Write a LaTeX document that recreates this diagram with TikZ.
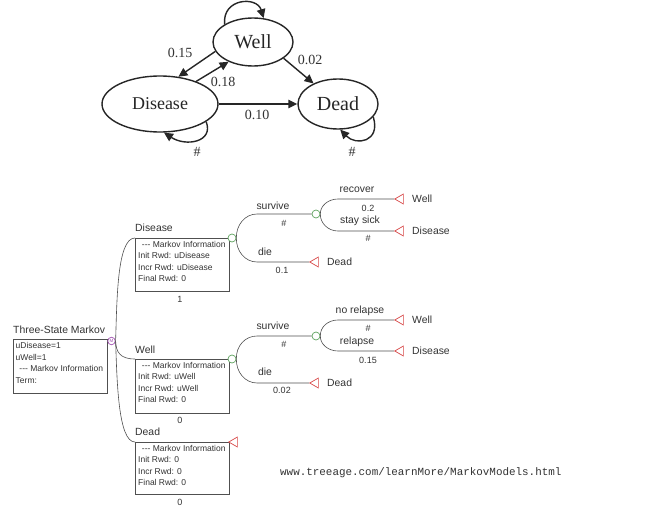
\documentclass[tikz,border=0pt]{standalone}
\usepackage{fontspec}
\setmainfont{Liberation Serif}
\newfontfamily\arialf{Liberation Sans}
\newfontfamily\courf{Liberation Mono}
\usetikzlibrary{shapes.geometric,arrows.meta}
\definecolor{tgray}{HTML}{505050}
\definecolor{txtc}{HTML}{333333}
\definecolor{cgreen}{HTML}{5FA35F}
\definecolor{tred}{HTML}{D84848}
\definecolor{mpurple}{HTML}{A050B0}
\tikzset{
  state/.style={ellipse,draw=black!85,line width=1.4pt,inner sep=0pt,text=black!85},
  arr/.style={draw=black!85,line width=1.4pt,-{Triangle[length=9pt,width=8.5pt]}},
  prob/.style={font=\fontsize{14}{16}\selectfont,text=black!80,inner sep=0pt},
  tl/.style={draw=tgray,line width=0.6pt},
  chance/.style={circle,draw=cgreen,line width=0.7pt,fill=white,minimum size=8pt,inner sep=0pt},
  term/.style={regular polygon,regular polygon sides=3,shape border rotate=90,draw=tred,line width=0.7pt,fill=white,minimum size=11.5pt,inner sep=0pt},
  markov/.style={circle,draw=mpurple,line width=0.7pt,fill=white,minimum size=7.5pt,inner sep=0pt,text=mpurple,font=\arialf\fontsize{4.5}{5}\selectfont},
  blab/.style={font=\arialf\fontsize{10.4}{12}\selectfont,text=txtc,inner sep=0pt},
  plab/.style={font=\arialf\fontsize{9}{10}\selectfont,text=txtc,inner sep=0pt},
  boxtxt/.style={font=\arialf\fontsize{8.5}{11.5}\selectfont,text=txtc,align=left,inner sep=0pt,anchor=north west},
  infobox/.style={draw=tgray,line width=0.6pt},
}
\begin{document}
\begin{tikzpicture}[x=1pt,y=-1pt]
\useasboundingbox[fill=white] (0,0) rectangle (659,508);
% ---------- top state diagram ----------
\node[state,minimum width=80pt,minimum height=48pt,font=\fontsize{20}{22}\selectfont] (well) at (253,42) {Well};
\node[state,minimum width=116pt,minimum height=56pt,font=\fontsize{18}{20}\selectfont] (dis) at (160,104) {Disease};
\node[state,minimum width=80pt,minimum height=50pt,font=\fontsize{20}{22}\selectfont] (dead) at (338,104) {Dead};
\draw[arr] (well.194) -- (dis.56);
\draw[arr] (dis.32) -- (well.219);
\draw[arr] (well.332) -- (dead.140);
\draw[arr] (dis.east) -- (dead.west);
\draw[arr] (well.148) .. controls (222,-2) and (257,-4) .. (well.66);
\draw[arr] (dis.-21) .. controls (214,142) and (186,147) .. (dis.-82);
\draw[arr] (dead.-20) .. controls (381,142) and (356,146) .. (dead.-85);
\node[prob] (p15) at (180,53) {0.15};
\node[prob] (p18) at (223,82) {0.18};
\node[prob] (p02) at (310,60) {0.02};
\node[prob] (p10) at (257,115) {0.10};
\node[prob] (hd) at (197,152) {\#};
\node[prob] (hx) at (352,152) {\#};
% ---------- bottom tree ----------
% root
\draw[infobox] (13,339) rectangle (107,393);
\node[blab,anchor=west] (rootlab) at (13,330) {Three-State Markov};
\node[boxtxt] (roottxt) at (15.5,342.5) {uDisease=1\\uWell=1\\\ \,-{}-{}- Markov Information\\Term:};
\coordinate (bD) at (135,238);
\coordinate (bW) at (135,359);
\coordinate (bX) at (135,442);
\node[markov] (root) at (111.5,341) {M};
\draw[tl] (root.east) .. controls (117,300) and (117,238) .. (bD);
\draw[tl] (root.east) .. controls (116,352) and (120,359) .. (bW);
\draw[tl] (root.east) .. controls (117,380) and (118,442) .. (bX);
\draw[infobox] (135,238) rectangle (229,291);
\draw[infobox] (135,359) rectangle (229,413);
\draw[infobox] (135,442) rectangle (229,494);
\node[blab,anchor=west] (labD) at (135,228) {Disease};
\node[blab,anchor=west] (labW) at (135,350) {Well};
\node[blab,anchor=west] (labX) at (135,432) {Dead};
\node[boxtxt] (txtD) at (138,241) {\ \,-{}-{}- Markov Information\\Init Rwd: uDisease\\Incr Rwd: uDisease\\Final Rwd: 0};
\node[boxtxt] (txtW) at (138,362) {\ \,-{}-{}- Markov Information\\Init Rwd: uWell\\Incr Rwd: uWell\\Final Rwd: 0};
\node[boxtxt] (txtX) at (138,445) {\ \,-{}-{}- Markov Information\\Init Rwd: 0\\Incr Rwd: 0\\Final Rwd: 0};
\node[plab] (n1) at (180,299) {1};
\node[plab] (n2) at (180,420) {0};
\node[plab] (n3) at (180,502) {0};
\node[chance] (cD) at (232,238) {};
\node[chance] (cW) at (232,359) {};
\node[term] (tX) at (234.5,442) {};
% Disease subtree
\coordinate (d1) at (257,214);
\coordinate (d2) at (257,262);
\node[chance] (cD2) at (316,214) {};
\node[term] (tD3) at (315.5,262) {};
\draw[tl] (cD.east) .. controls (236,225) and (245,214) .. (d1) -- (cD2.west);
\draw[tl] (cD.east) .. controls (236,251) and (245,262) .. (d2) -- (tD3.west);
\coordinate (d3) at (338,199);
\coordinate (d4) at (338,231);
\node[term] (tD1) at (400.5,199) {};
\node[term] (tD2) at (400.5,231) {};
\draw[tl] (cD2.east) .. controls (320,206) and (328,199) .. (d3) -- (tD1.west);
\draw[tl] (cD2.east) .. controls (320,223) and (328,231) .. (d4) -- (tD2.west);
\node[blab] (sv1) at (273,206) {survive};
\node[plab] (h1) at (284,223) {\#};
\node[blab] (di1) at (265,252) {die};
\node[plab] (q1) at (282,270) {0.1};
\node[blab] (rc) at (357,190) {recover};
\node[plab] (q2) at (368,208) {0.2};
\node[blab] (ss) at (360,221) {stay sick};
\node[plab] (h2) at (368,238) {\#};
\node[blab,anchor=west] (e1) at (412,199) {Well};
\node[blab,anchor=west] (e2) at (412,231) {Disease};
\node[blab,anchor=west] (e3) at (327,262) {Dead};
% Well subtree
\coordinate (w1) at (257,336);
\coordinate (w2) at (257,383);
\node[chance] (cW2) at (316,336) {};
\node[term] (tW3) at (315.5,383) {};
\draw[tl] (cW.east) .. controls (236,346) and (245,336) .. (w1) -- (cW2.west);
\draw[tl] (cW.east) .. controls (236,372) and (245,383) .. (w2) -- (tW3.west);
\coordinate (w3) at (338,320);
\coordinate (w4) at (338,351);
\node[term] (tW1) at (400.5,320) {};
\node[term] (tW2) at (400.5,351) {};
\draw[tl] (cW2.east) .. controls (320,327) and (328,320) .. (w3) -- (tW1.west);
\draw[tl] (cW2.east) .. controls (320,344) and (328,351) .. (w4) -- (tW2.west);
\node[blab] (sv2) at (273,326) {survive};
\node[plab] (h3) at (284,344) {\#};
\node[blab] (di2) at (265,372) {die};
\node[plab] (q3) at (282,390) {0.02};
\node[blab] (nr) at (360,311) {no relapse};
\node[plab] (h4) at (368,328) {\#};
\node[blab] (rl) at (357,342) {relapse};
\node[plab] (q4) at (368,360) {0.15};
\node[blab,anchor=west] (e4) at (412,320) {Well};
\node[blab,anchor=west] (e5) at (412,351) {Disease};
\node[blab,anchor=west] (e6) at (327,383) {Dead};
% URL
\node[font=\courf\fontsize{10.9}{12}\selectfont,text=txtc,anchor=west,inner sep=0pt] (url) at (280,473) {www.treeage.com/learnMore/MarkovModels.html};
\end{tikzpicture}
\end{document}
